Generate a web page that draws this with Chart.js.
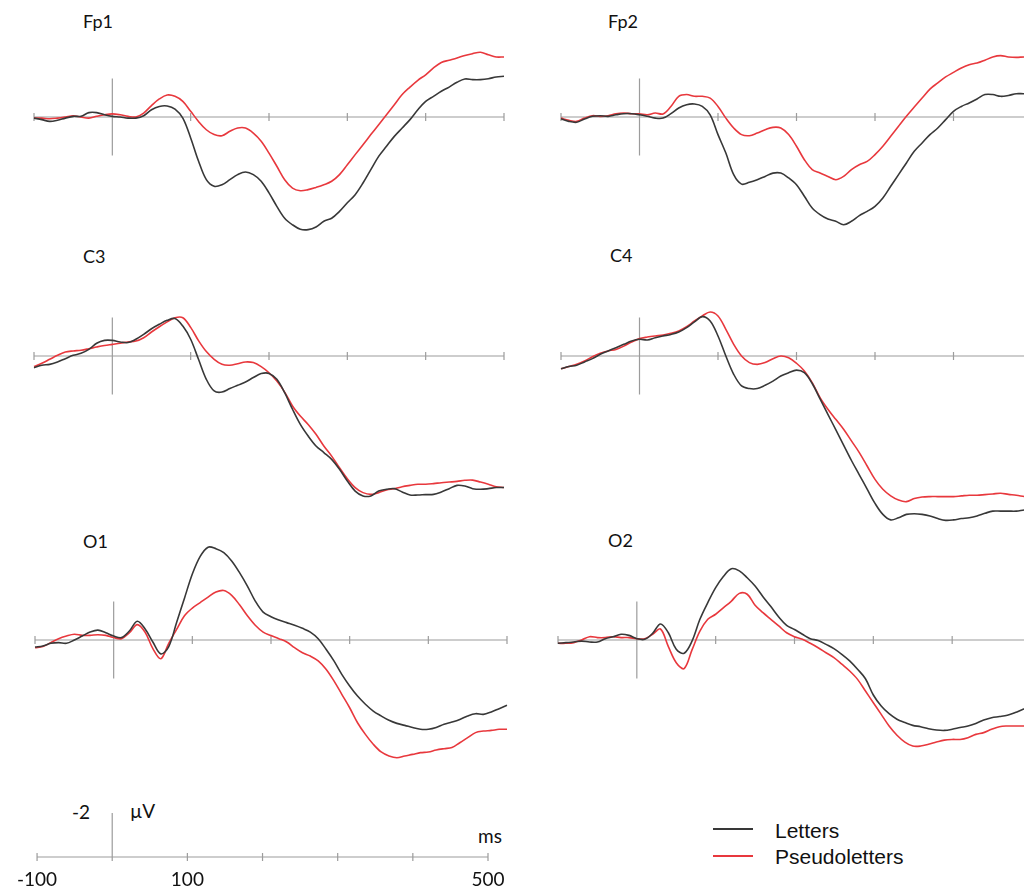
<!DOCTYPE html>
<html lang="en">
<head>
<meta charset="utf-8">
<title>ERP waveforms: Letters vs Pseudoletters</title>
<script src="https://cdn.jsdelivr.net/npm/chart.js@4.4.1/dist/chart.umd.min.js"></script>
<style>
  html, body { margin: 0; padding: 0; background: #fff; }
  body { position: relative; width: 1024px; height: 886px; overflow: hidden; font-family: Lato, "Open Sans", sans-serif; color: #111; }
  canvas, .txt, .swatch { position: absolute; }
  .txt { line-height: 1; white-space: nowrap; }
  .site { font-size: 18px; }
  .unit { font-size: 19px; }
  .legend { font-family: "Liberation Sans", Arial, sans-serif; font-size: 21px; }
  .swatch { width: 40px; height: 2px; }
</style>
</head>
<body>
<div class="txt site" style="left:83px;top:12px">Fp1</div>
<div class="txt site" style="left:608px;top:12px">Fp2</div>
<div class="txt site" style="left:83px;top:247px">C3</div>
<div class="txt site" style="left:610px;top:246px">C4</div>
<div class="txt site" style="left:83px;top:532px">O1</div>
<div class="txt site" style="left:608px;top:531px">O2</div>

<div class="txt unit" style="left:72px;top:802px">-2</div>
<div class="txt unit" style="left:130px;top:801px">µV</div>
<div class="txt unit" style="left:478px;top:826px">ms</div>

<div class="swatch" style="left:713px;top:828px;background:#383838"></div>
<div class="txt legend" style="left:775px;top:820px">Letters</div>
<div class="swatch" style="left:713px;top:855px;background:#e8383d"></div>
<div class="txt legend" style="left:775px;top:846px">Pseudoletters</div>

<script>
// ERP grand averages, µV, negative plotted up
const times = [-100,-90,-80,-70,-60,-50,-40,-30,-20,-10,
  0,10,20,30,40,50,60,70,80,90,
  100,110,120,130,140,150,160,170,180,190,
  200,210,220,230,240,250,260,270,280,290,
  300,310,320,330,340,350,360,370,380,390,
  400,410,420,430,440,450,460,470,480,490,
  500];
const xTicks = [-100, 0, 100, 200, 300, 400, 500];
const scaleTickLabels = [-100, 100, 500];

const fp1Letters = [0.05,0.12,0.2,0.15,0.05,-0.03,-0.03,-0.2,-0.2,-0.1,
  -0.03,0,0.05,0.05,-0.06,-0.33,-0.48,-0.5,-0.36,0.05,
  0.95,2.0,2.85,3.15,3.08,2.85,2.62,2.5,2.62,2.92,
  3.45,4.06,4.6,4.9,5.1,5.12,5.0,4.74,4.6,4.29,
  3.9,3.53,3.0,2.39,1.79,1.33,0.88,0.5,0.12,-0.33,
  -0.71,-0.94,-1.17,-1.36,-1.58,-1.73,-1.7,-1.7,-1.74,-1.82,
  -1.85];
const fp1Pseudo = [0.05,0.05,0.08,0.05,0,-0.06,0,0.05,-0.03,-0.1,
  -0.14,-0.1,-0.03,0,-0.18,-0.52,-0.82,-1.0,-0.94,-0.71,
  -0.26,0.2,0.58,0.8,0.85,0.65,0.5,0.5,0.73,1.1,
  1.64,2.24,2.85,3.23,3.35,3.3,3.2,3.08,2.92,2.62,
  2.17,1.71,1.26,0.8,0.35,-0.1,-0.56,-1.02,-1.36,-1.67,
  -1.92,-2.23,-2.48,-2.58,-2.68,-2.8,-2.88,-2.94,-2.83,-2.73,
  -2.73];

const fp2Letters = [0.08,0.2,0.24,0.09,-0.03,-0.06,-0.03,-0.1,-0.15,-0.15,
  -0.1,-0.03,0.05,0.05,-0.15,-0.41,-0.56,-0.59,-0.48,-0.1,
  0.8,1.64,2.62,3.05,2.97,2.85,2.7,2.55,2.55,2.77,
  3.08,3.6,4.14,4.44,4.64,4.74,4.9,4.74,4.48,4.29,
  4.06,3.68,3.15,2.62,2.09,1.56,1.18,0.8,0.5,0.12,
  -0.26,-0.48,-0.64,-0.82,-1.02,-1.02,-0.94,-0.98,-1.06,-1.06,
  -1.09];
const fp2Pseudo = [0.05,0.15,0.2,0.05,-0.06,-0.03,-0.06,-0.15,-0.18,-0.15,
  -0.14,-0.1,-0.18,-0.14,-0.48,-0.94,-1.02,-0.94,-0.94,-0.86,
  -0.48,0.05,0.5,0.8,0.85,0.73,0.58,0.47,0.5,0.8,
  1.33,1.94,2.39,2.55,2.7,2.85,2.7,2.39,2.17,2.02,
  1.71,1.33,0.88,0.42,-0.03,-0.45,-0.86,-1.27,-1.55,-1.82,
  -2.03,-2.23,-2.38,-2.45,-2.58,-2.73,-2.79,-2.73,-2.71,-2.73,
  -2.73];

const c3Letters = [0.53,0.42,0.38,0.27,0.12,-0.03,-0.12,-0.3,-0.58,-0.71,
  -0.71,-0.64,-0.61,-0.76,-0.98,-1.24,-1.44,-1.62,-1.7,-1.36,
  -0.76,0.15,1.06,1.59,1.64,1.48,1.33,1.18,0.98,0.8,
  0.79,1.06,1.67,2.42,3.11,3.64,4.09,4.39,4.7,5.15,
  5.68,6.14,6.36,6.36,6.14,6.06,6.03,6.18,6.32,6.32,
  6.3,6.29,6.18,6.03,5.88,5.91,6.03,6.06,6.03,5.98,
  5.98];
const c3Pseudo = [0.48,0.33,0.15,-0.03,-0.18,-0.23,-0.26,-0.33,-0.41,-0.48,
  -0.53,-0.58,-0.64,-0.68,-0.83,-1.09,-1.33,-1.55,-1.74,-1.74,
  -1.3,-0.7,-0.2,0.15,0.38,0.42,0.35,0.27,0.3,0.48,
  0.76,1.14,1.64,2.27,2.73,3.11,3.56,4.09,4.55,5.08,
  5.58,5.98,6.21,6.29,6.21,6.09,6.03,5.94,5.88,5.83,
  5.83,5.8,5.76,5.73,5.7,5.65,5.64,5.73,5.83,5.94,
  5.98];

const c4Letters = [0.58,0.48,0.42,0.27,0.12,-0.08,-0.23,-0.38,-0.53,-0.68,
  -0.76,-0.73,-0.83,-0.91,-0.98,-1.09,-1.29,-1.55,-1.79,-1.59,
  -0.91,0.0,0.83,1.36,1.48,1.48,1.33,1.14,0.91,0.76,
  0.64,0.76,1.25,1.95,2.65,3.35,4.05,4.75,5.4,6.05,
  6.7,7.2,7.45,7.35,7.2,7.17,7.2,7.27,7.39,7.47,
  7.45,7.39,7.35,7.27,7.15,7.05,7.05,7.05,7.05,7.0,
  6.97];
const c4Pseudo = [0.58,0.48,0.38,0.23,0.03,-0.12,-0.23,-0.3,-0.45,-0.64,
  -0.79,-0.86,-0.91,-0.95,-1.03,-1.14,-1.33,-1.59,-1.82,-2.0,
  -1.82,-1.21,-0.53,0,0.3,0.38,0.3,0.12,0,0.08,
  0.33,0.68,1.21,1.89,2.42,2.88,3.33,3.86,4.39,5.0,
  5.61,6.06,6.36,6.55,6.62,6.48,6.41,6.39,6.39,6.39,
  6.39,6.36,6.33,6.33,6.3,6.27,6.24,6.29,6.33,6.39,
  6.44];

const o1Letters = [0.32,0.27,0.15,0.12,0.15,0,-0.18,-0.36,-0.45,-0.33,
  -0.18,-0.11,-0.41,-0.85,-0.5,0.1,0.63,0.3,-0.8,-1.9,
  -3.0,-3.8,-4.22,-4.15,-3.97,-3.59,-3.06,-2.45,-1.77,-1.27,
  -1.06,-0.91,-0.79,-0.67,-0.53,-0.36,-0.06,0.42,0.95,1.56,
  2.09,2.55,2.92,3.23,3.45,3.65,3.79,3.88,3.98,4.06,
  4.06,3.98,3.83,3.73,3.61,3.45,3.35,3.38,3.27,3.12,
  2.97];
const o1Pseudo = [0.35,0.3,0.12,-0.06,-0.18,-0.26,-0.21,-0.21,-0.24,-0.21,
  -0.11,-0.06,-0.33,-0.7,-0.35,0.4,0.85,0.15,-0.48,-1.1,
  -1.45,-1.7,-1.95,-2.18,-2.25,-2.03,-1.6,-1.1,-0.67,-0.36,
  -0.2,-0.06,0.09,0.35,0.58,0.73,0.95,1.33,1.86,2.47,
  3.08,3.76,4.29,4.74,5.09,5.27,5.35,5.27,5.2,5.12,
  5.09,5.0,4.94,4.89,4.67,4.44,4.21,4.14,4.11,4.06,
  4.06];

const o2Letters = [0.15,0.12,0.09,0.05,0.09,0.09,-0.06,-0.15,-0.26,-0.21,
  -0.06,-0.03,-0.3,-0.73,-0.33,0.42,0.6,0.05,-0.94,-1.7,
  -2.38,-2.9,-3.24,-3.14,-2.83,-2.45,-1.97,-1.52,-1.05,-0.67,
  -0.48,-0.26,-0.06,0.02,0.2,0.39,0.65,0.95,1.33,1.76,
  2.5,3.0,3.35,3.6,3.75,3.88,3.94,4.03,4.09,4.11,
  4.06,3.98,3.91,3.79,3.64,3.53,3.48,3.42,3.3,3.15,
  3.03];
const o2Pseudo = [0.15,0.15,0.12,0,-0.15,-0.11,-0.11,-0.15,-0.11,-0.11,
  -0.06,-0.06,-0.26,-0.5,0.3,1.03,1.3,0.45,-0.4,-0.94,
  -1.17,-1.47,-1.77,-2.12,-2.08,-1.58,-1.24,-0.94,-0.64,-0.33,
  -0.15,-0.03,0.15,0.35,0.58,0.8,1.1,1.41,1.79,2.32,
  2.85,3.38,3.91,4.33,4.64,4.82,4.82,4.74,4.64,4.55,
  4.52,4.52,4.44,4.29,4.21,4.06,3.94,3.91,3.91,3.91,
  3.91];

const LETTERS_COLOR = '#383838';
const PSEUDO_COLOR = '#e8383d';
const AXIS_COLOR = '#9c9c9c';
const PX = 22;   // pixels per µV
const PAD = 6;

// x0/x1: page pixel of -100 and 500 ms; base: page pixel of 0 µV
const panels = [
  { x0: 34, x1: 504, base: 117, min: -4, max: 6, letters: fp1Letters, pseudo: fp1Pseudo },
  { x0: 561, x1: 1032, base: 117, min: -4, max: 6, letters: fp2Letters, pseudo: fp2Pseudo },
  { x0: 34, x1: 504, base: 356, min: -3, max: 7, letters: c3Letters, pseudo: c3Pseudo },
  { x0: 561, x1: 1032, base: 356, min: -3, max: 8, letters: c4Letters, pseudo: c4Pseudo },
  { x0: 35, x1: 507, base: 640, min: -5, max: 6, letters: o1Letters, pseudo: o1Pseudo },
  { x0: 558, x1: 1031, base: 640, min: -4, max: 6, letters: o2Letters, pseudo: o2Pseudo }
];

// zero line with 100 ms ticks and the stimulus-onset bar
const erpAxes = {
  id: 'erpAxes',
  beforeDatasetsDraw(chart, args, opts) {
    const { ctx, scales: { x, y } } = chart;
    const y0 = y.getPixelForValue(0);
    const xz = x.getPixelForValue(0);
    ctx.save();
    ctx.strokeStyle = AXIS_COLOR;
    ctx.lineWidth = 1.2;
    ctx.beginPath();
    ctx.moveTo(x.getPixelForValue(xTicks[0]), y0);
    ctx.lineTo(x.getPixelForValue(xTicks[xTicks.length - 1]), y0);
    xTicks.forEach(t => {
      const px = x.getPixelForValue(t);
      ctx.moveTo(px, y0 - opts.tick);
      ctx.lineTo(px, y0 + opts.tick);
    });
    ctx.moveTo(xz, y.getPixelForValue(opts.barTop));
    ctx.lineTo(xz, y.getPixelForValue(opts.barBottom));
    ctx.stroke();
    ctx.restore();
  }
};

function makeCanvas(left, top, width, height) {
  const c = document.createElement('canvas');
  c.width = width;
  c.height = height;
  c.style.left = left + 'px';
  c.style.top = top + 'px';
  c.style.width = width + 'px';
  c.style.height = height + 'px';
  document.body.appendChild(c);
  return c;
}

function series(values) {
  return times.map((t, i) => ({ x: t, y: values[i] }));
}

function lineSet(label, values, color) {
  return {
    label,
    data: series(values),
    borderColor: color,
    borderWidth: 1.6,
    pointRadius: 0,
    tension: 0.35,
    clip: false
  };
}

panels.forEach(p => {
  const w = p.x1 - p.x0 + 2 * PAD;
  const h = (p.max - p.min) * PX + 2 * PAD;
  const canvas = makeCanvas(p.x0 - PAD, p.base + p.min * PX - PAD, w, h);
  new Chart(canvas, {
    type: 'line',
    data: {
      datasets: [
        lineSet('Letters', p.letters, LETTERS_COLOR),
        lineSet('Pseudoletters', p.pseudo, PSEUDO_COLOR)
      ]
    },
    options: {
      responsive: false,
      animation: false,
      devicePixelRatio: 1,
      layout: { padding: PAD },
      plugins: {
        legend: { display: false },
        tooltip: { enabled: false },
        erpAxes: { tick: 4, barTop: -1.75, barBottom: 1.75 }
      },
      scales: {
        x: { type: 'linear', display: false, min: -100, max: 500 },
        y: { display: false, reverse: true, min: p.min, max: p.max }
      }
    },
    plugins: [erpAxes]
  });
});

// calibration bar with the time axis labels
const scaleX0 = 36, scaleX1 = 488, scaleBase = 857, scaleSide = 30;
const scaleCanvas = makeCanvas(scaleX0 - scaleSide, scaleBase - 2.5 * PX,
  scaleX1 - scaleX0 + 2 * scaleSide, 2.5 * PX + 29);
new Chart(scaleCanvas, {
  type: 'line',
  data: { datasets: [] },
  options: {
    responsive: false,
    animation: false,
    devicePixelRatio: 1,
    layout: { padding: { left: scaleSide, right: scaleSide, top: 0, bottom: 0 } },
    plugins: {
      legend: { display: false },
      tooltip: { enabled: false },
      erpAxes: { tick: 4, barTop: -2, barBottom: 0 }
    },
    scales: {
      x: {
        type: 'linear', min: -100, max: 500,
        grid: { display: false, drawTicks: false },
        border: { display: false },
        ticks: {
          stepSize: 100, autoSkip: false, maxRotation: 0, padding: 11,
          color: '#111', font: { family: 'Lato', size: 19 },
          callback: v => scaleTickLabels.includes(v) ? String(v) : ''
        },
        afterFit: s => { s.height = 29; }
      },
      y: { display: false, reverse: true, min: -2.5, max: 0 }
    }
  },
  plugins: [erpAxes]
});
</script>
</body>
</html>
